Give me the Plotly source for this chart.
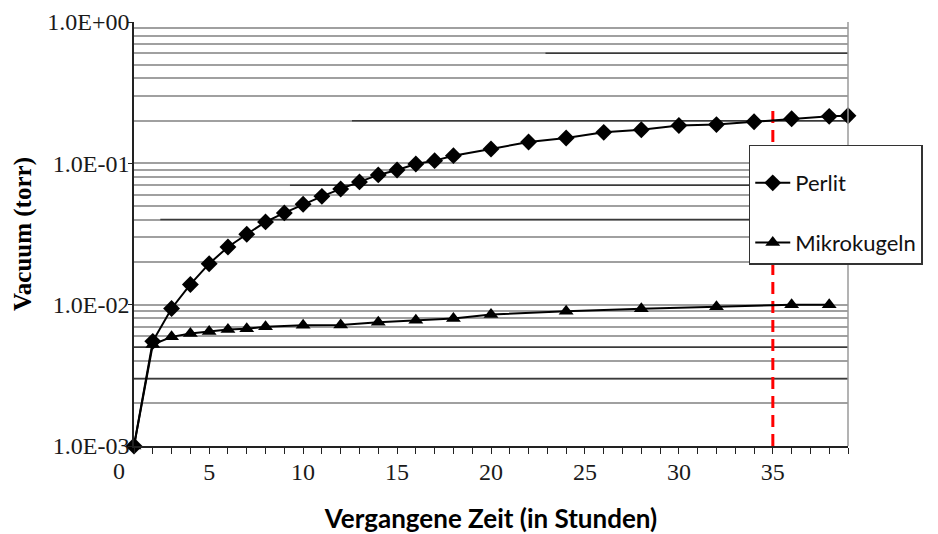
import plotly.graph_objects as go

# ---- data ----
perlit_hours = [1, 2, 3, 4, 5, 6, 7, 8, 9, 10, 11, 12, 13, 14, 15, 16, 17, 18, 20,
                22, 24, 26, 28, 30, 32, 34, 36, 38, 39]
perlit_vacuum = [0.0010, 0.0055, 0.0094, 0.0139, 0.0195, 0.0256, 0.0315, 0.0385, 0.0446,
                 0.0513, 0.0584, 0.0659, 0.0739, 0.0828, 0.0898, 0.0990, 0.1045, 0.1133,
                 0.1264, 0.1417, 0.1510, 0.1657, 0.1730, 0.1850, 0.1880, 0.1970, 0.2070,
                 0.2150, 0.2170]

mikro_hours = [1, 2, 3, 4, 5, 6, 7, 8, 10, 12, 14, 16, 18, 20, 24, 28, 32, 36, 38]
mikro_vacuum = [0.0010, 0.00522, 0.00592, 0.00625, 0.00646, 0.00667, 0.00675, 0.00697,
                0.00715, 0.00718, 0.00751, 0.00776, 0.00798, 0.00851, 0.00898, 0.00934,
                0.00965, 0.0100, 0.0100]

series_names = ["Perlit", "Mikrokugeln"]

y_tick_values = [0.001, 0.01, 0.1, 1.0]
y_tick_labels = ["1.0E-03", "1.0E-02", "1.0E-01", "1.0E+00"]
x_tick_values = [5, 10, 15, 20, 25, 30, 35]
x_tick_labels = ["5", "10", "15", "20", "25", "30", "35"]
x_origin_label = "0"

minor_grid_values = [k * 10.0 ** d for d in (-3, -2, -1) for k in range(2, 10)]

# darker gridline segments (level, starting hour)
dark_grid_levels = [0.6, 0.2, 0.07, 0.04, 0.005, 0.003]
dark_grid_start = [22.9, 12.6, 9.3, 2.4, 1.0, 1.0]

cutoff_hour = 35
cutoff_top = 0.256

x_range = [1, 39]

x_title = "Vergangene Zeit (in Stunden)"
y_title = "Vacuum (torr)"

serif = "Liberation Serif, Times New Roman, serif"
sans = "Lato, Open Sans, sans-serif"

fig = go.Figure()

# darker gridline segments
for lvl, start in zip(dark_grid_levels, dark_grid_start):
    fig.add_trace(go.Scatter(x=[start, x_range[1]], y=[lvl, lvl], mode="lines",
                             line=dict(color="#3a3a3a", width=1.5),
                             showlegend=False, hoverinfo="skip"))

# red dashed cutoff line
fig.add_trace(go.Scatter(x=[cutoff_hour, cutoff_hour], y=[y_tick_values[0], cutoff_top],
                         mode="lines", line=dict(color="#ff0000", width=3, dash="12px,7px"),
                         showlegend=False, hoverinfo="skip", cliponaxis=False))

fig.add_trace(go.Scatter(x=perlit_hours, y=perlit_vacuum, mode="lines+markers",
                         name=series_names[0], legendgroup="a",
                         line=dict(color="black", width=2),
                         marker=dict(symbol="diamond", size=13, color="black"),
                         cliponaxis=False))
fig.add_trace(go.Scatter(x=mikro_hours, y=mikro_vacuum, mode="lines+markers",
                         name=series_names[1], legendgroup="b",
                         line=dict(color="black", width=2),
                         marker=dict(symbol="triangle-up", size=13, color="black"),
                         cliponaxis=False))

fig.update_layout(
    width=938, height=534,
    margin=dict(l=134, r=90, t=22, b=88),
    paper_bgcolor="white", plot_bgcolor="white",
    showlegend=True,
    legend=dict(x=0.861, y=0.71, xanchor="left", yanchor="top",
                bgcolor="white", bordercolor="#333333", borderwidth=1.5,
                font=dict(family=sans, size=22, color="#111111"),
                tracegroupgap=28, itemwidth=35,
                title=dict(text=" ", font=dict(size=12))),
    xaxis=dict(range=x_range, tickmode="array", tickvals=x_tick_values, ticktext=x_tick_labels,
               ticks="outside", ticklen=6, tickcolor="#222", tickwidth=1.2,
               minor=dict(dtick=1, tick0=0, ticks="outside", ticklen=6, tickcolor="#222",
                          showgrid=False),
               showline=True, linecolor="#222", linewidth=1.5,
               showgrid=False, zeroline=False, automargin=False,
               tickfont=dict(family=serif, size=24, color="#1a1a1a"),
               ticklabelstandoff=-3,
               title=dict(text=x_title, standoff=26,
                          font=dict(family=sans, size=26, color="black", weight="bold"))),
    yaxis=dict(type="log", range=[-3, 0], tickmode="array",
               tickvals=y_tick_values, ticktext=y_tick_labels,
               ticks="outside", ticklen=4, tickcolor="#222",
               showline=True, linecolor="#222", linewidth=1.5,
               showgrid=True, gridcolor="#a0a0a0", gridwidth=1.5,
               minor=dict(tickmode="array", tickvals=minor_grid_values, showgrid=True,
                          gridcolor="#a0a0a0", gridwidth=1.5, ticks=""),
               zeroline=False, automargin=False,
               tickfont=dict(family=serif, size=24, color="#1a1a1a"),
               ticklabelstandoff=-6,
               title=dict(text=y_title, standoff=8,
                          font=dict(family=serif, size=25, color="black", weight="bold"))),
)

# right border of plot area
fig.add_shape(type="line", xref="paper", yref="paper", x0=1, x1=1, y0=0, y1=1,
              line=dict(color="#9a9a9a", width=1.5))

# "0" label left of the plot start (the origin lies outside the plotted range)
fig.add_annotation(x=(0 - x_range[0]) / (x_range[1] - x_range[0]), xref="paper",
                   y=0, yref="paper", text=x_origin_label, showarrow=False,
                   xanchor="center", yanchor="top", yshift=-10, xshift=4,
                   font=dict(family=serif, size=24, color="#1a1a1a"))

fig.write_html("out.html")
